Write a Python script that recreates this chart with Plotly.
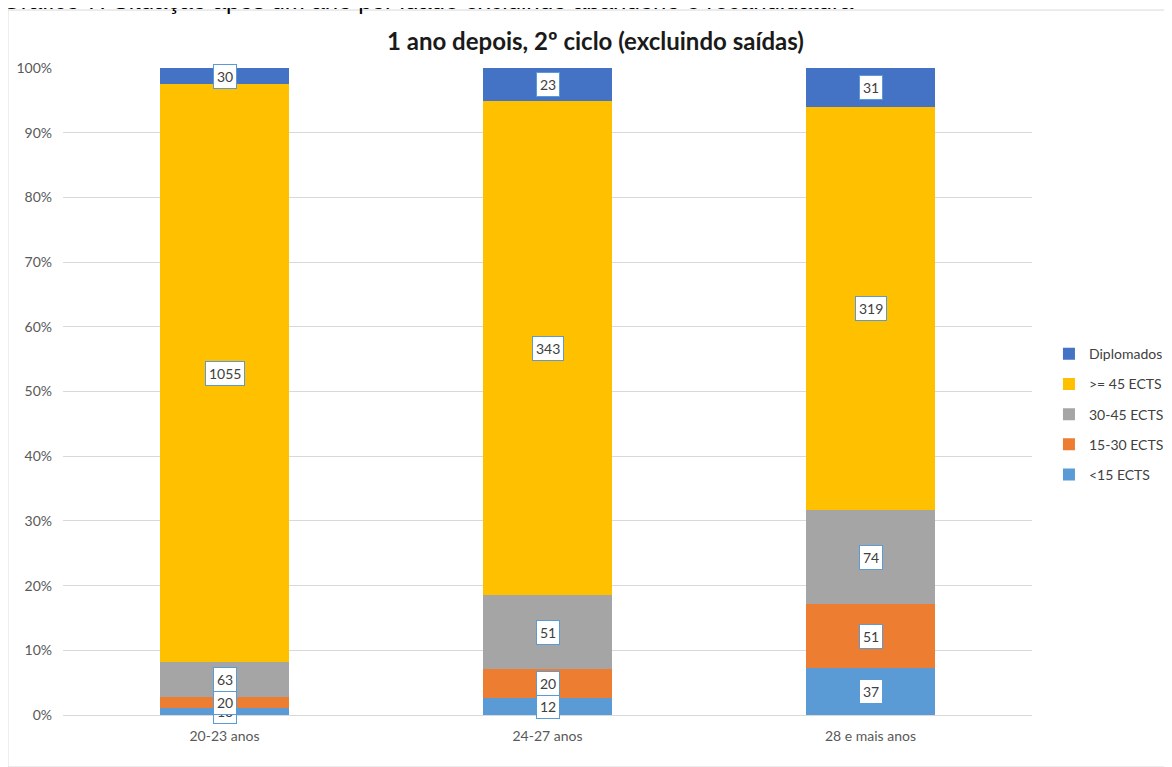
import plotly.graph_objects as go

categories = ["20-23 anos", "24-27 anos", "28 e mais anos"]
series_names = ["<15 ECTS", "15-30 ECTS", "30-45 ECTS", ">= 45 ECTS", "Diplomados"]
lt15 = [13, 12, 37]
e15_30 = [20, 20, 51]
e30_45 = [63, 51, 74]
ge45 = [1055, 343, 319]
diplomados = [30, 23, 31]
colors = ["#5B9BD5", "#ED7D31", "#A5A5A5", "#FFC000", "#4472C4"]
ytick_vals = list(range(0, 101, 10))
ytick_text = [f"{v}%" for v in ytick_vals]

series = [lt15, e15_30, e30_45, ge45, diplomados]
totals = [sum(s[i] for s in series) for i in range(len(categories))]
pct = [[v / totals[i] * 100 for i, v in enumerate(s)] for s in series]

FONT = "Lato"
fig = go.Figure()
n = len(series_names)
for k, (name, vals, p, col) in enumerate(zip(series_names, series, pct, colors)):
    fig.add_trace(go.Bar(
        x=categories, y=p, name=name, marker=dict(color=col, line=dict(width=0)),
        legendgroup=name, legendrank=n - k,
        customdata=vals, hovertemplate="%{x}<br>%{customdata}<extra>" + name + "</extra>",
    ))

annotations = []
for i, cat in enumerate(categories):
    base = 0
    for s_idx in range(len(series)):
        h = pct[s_idx][i]
        annotations.append(dict(
            x=cat, y=base + h / 2, xref="x", yref="y", text=str(series[s_idx][i]),
            showarrow=False, font=dict(family=FONT, size=14, color="#404040"),
            bgcolor="white", bordercolor="#5B9BD5", borderwidth=1, borderpad=3,
        ))
        base += h

annotations.append(dict(
    x=0.55, y=1.043, xref="paper", yref="paper", text="<b>1 ano depois, 2º ciclo (excluindo saídas)</b>",
    showarrow=False, font=dict(family=FONT, size=24, color="#1a1a1a"), xanchor="center", yanchor="middle",
))
annotations.append(dict(
    x=-0.065, y=1.0805, xref="paper", yref="paper",
    text="Gráfico 7: Situação após um ano por idade excluindo abandono e recandidatura",
    showarrow=False, font=dict(family="Liberation Sans", size=24, color="#000000"),
    xanchor="left", yanchor="bottom",
))

fig.update_layout(
    width=1164, height=759,
    margin=dict(l=55, r=140, t=60, b=52, autoexpand=False),
    barmode="stack", bargap=0.6,
    paper_bgcolor="white", plot_bgcolor="white",
    font=dict(family=FONT, size=13, color="#595959"),
    showlegend=True,
    legend=dict(traceorder="grouped", x=1.0175, y=0.465, xanchor="left", yanchor="middle",
                font=dict(family=FONT, size=14, color="#404040"), itemwidth=30,
                tracegroupgap=9, itemsizing="constant"),
    annotations=annotations,
    shapes=[dict(type="rect", xref="paper", yref="paper", x0=-0.0568, x1=1.1434, y0=-0.0804, y1=1.0896,
                 line=dict(color="#D9D9D9", width=1), fillcolor="rgba(0,0,0,0)", layer="below")],
)
fig.update_xaxes(showgrid=False, showline=True, linecolor="#D9D9D9", linewidth=1, ticks="",
                 ticklabelstandoff=8,
                 tickfont=dict(family=FONT, size=14, color="#595959"))
fig.update_yaxes(range=[0, 100], tickvals=ytick_vals, ticktext=ytick_text, showgrid=True,
                 gridcolor="#D9D9D9", gridwidth=1, zeroline=False, showline=False, ticks="",
                 ticklabelstandoff=10,
                 tickfont=dict(family=FONT, size=14, color="#595959"))

fig.write_html("out.html")
